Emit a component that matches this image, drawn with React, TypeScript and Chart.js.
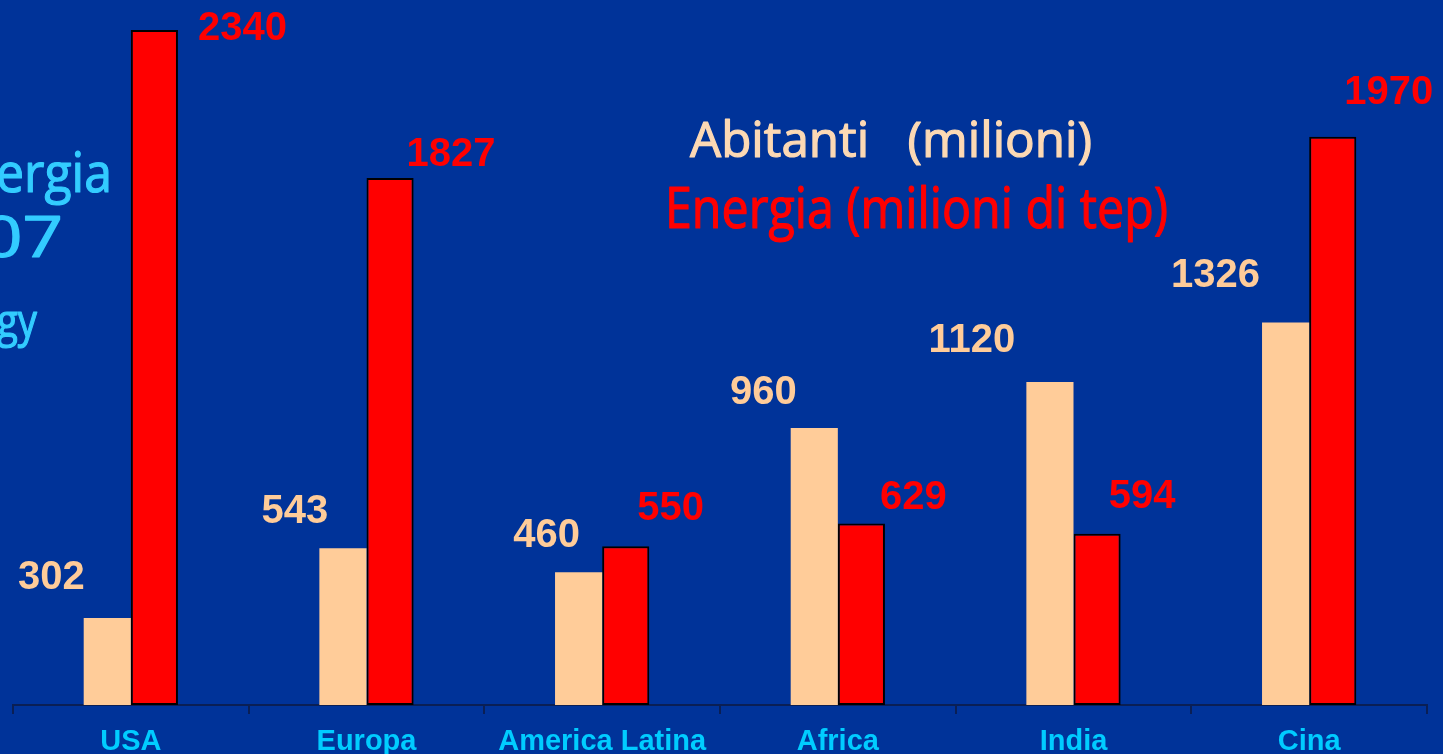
import React, { useEffect, useRef } from "react";
import { Chart, registerables } from "chart.js";

Chart.register(...registerables);

// ---- data ----
const categories = ["USA", "Europa", "America Latina", "Africa", "India", "Cina"];
const abitanti = [302, 543, 460, 960, 1120, 1326];
const energia = [2340, 1827, 550, 629, 594, 1970];
const yMax = 2444;

// ---- label nudges (relative to the bar centre / bar top) ----
const abitantiLabelDx = [-56, -48, -32, -51, -78, -70];
const abitantiLabelDy = [40, 36, 36, 35, 41, 47];
const energiaLabelDx = [88, 61, 45, 52, 45, 56];
const energiaLabelDy = [1, 23, 37, 26, 37, 44];

const BG = "#003399";
const PEACH = "#FFCC99";
const RED = "#FF0000";
const CYAN = "#00CCFF";
const AXIS = "#0a1f55";

function drawFit(
  ctx: CanvasRenderingContext2D,
  text: string,
  x: number,
  y: number,
  width: number,
  font: string,
  color: string
) {
  ctx.save();
  ctx.font = font;
  ctx.fillStyle = color;
  ctx.strokeStyle = color;
  ctx.lineWidth = 1.2;
  ctx.lineJoin = "round";
  ctx.textAlign = "left";
  ctx.textBaseline = "alphabetic";
  const w = ctx.measureText(text).width || 1;
  ctx.translate(x, y);
  ctx.scale(width / w, 1);
  ctx.fillText(text, 0, 0);
  ctx.strokeText(text, 0, 0);
  ctx.restore();
}

const decorPlugin = {
  id: "decor",
  beforeDraw(chart: any) {
    const ctx = chart.ctx as CanvasRenderingContext2D;
    ctx.save();
    ctx.fillStyle = BG;
    ctx.fillRect(0, 0, chart.width, chart.height);
    ctx.restore();
  },
  afterDatasetsDraw(chart: any) {
    const ctx = chart.ctx as CanvasRenderingContext2D;
    // left cut-off title text
    const hand = "'Open Sans', sans-serif";
    drawFit(ctx, "ergia", -4, 192, 116, `54px ${hand}`, "#33CCFF");
    drawFit(ctx, "07", -18, 257, 81, `56px ${hand}`, "#33CCFF");
    drawFit(ctx, "gy", -3, 337, 40, `45px ${hand}`, "#33CCFF");

    // legend text
    drawFit(ctx, "Abitanti   (milioni)", 690, 157, 402, `49px ${hand}`, "#FCD9B4");
    drawFit(ctx, "Energia (milioni di tep)", 665, 228, 503, `56px ${hand}`, RED);

    // value labels
    ctx.save();
    ctx.font = "bold 40px 'Liberation Sans', Arial, sans-serif";
    ctx.textAlign = "center";
    ctx.textBaseline = "middle";
    const m0 = chart.getDatasetMeta(0);
    const m1 = chart.getDatasetMeta(1);
    m0.data.forEach((bar: any, i: number) => {
      ctx.fillStyle = PEACH;
      ctx.fillText(String(abitanti[i]), bar.x + abitantiLabelDx[i], bar.y - abitantiLabelDy[i]);
    });
    m1.data.forEach((bar: any, i: number) => {
      ctx.fillStyle = RED;
      ctx.fillText(String(energia[i]), bar.x + energiaLabelDx[i], bar.y - energiaLabelDy[i]);
    });
    ctx.restore();
  },
};

export default function App() {
  const ref = useRef<HTMLCanvasElement | null>(null);

  useEffect(() => {
    document.body.style.margin = "0";
    document.body.style.background = BG;
    if (!ref.current) return;
    const chart = new Chart(ref.current, {
      type: "bar",
      data: {
        labels: categories,
        datasets: [
          {
            label: "Abitanti (milioni)",
            data: abitanti,
            backgroundColor: PEACH,
            borderWidth: 0,
            categoryPercentage: 0.4,
            barPercentage: 1.0,
          },
          {
            label: "Energia (milioni di tep)",
            data: energia,
            backgroundColor: RED,
            borderColor: "#000000",
            borderWidth: 2,
            borderSkipped: false,
            categoryPercentage: 0.4,
            barPercentage: 1.0,
          },
        ],
      },
      options: {
        animation: false,
        responsive: true,
        maintainAspectRatio: false,
        layout: { padding: { left: 13, right: 16, top: 0, bottom: 0 } },
        plugins: {
          legend: { display: false },
          tooltip: { enabled: false },
          title: { display: false },
        },
        scales: {
          x: {
            grid: {
              display: true,
              drawOnChartArea: false,
              drawTicks: true,
              tickLength: 9,
              color: AXIS,
              lineWidth: 2,
              offset: true,
            },
            border: { display: true, color: AXIS, width: 2 },
            ticks: {
              color: CYAN,
              font: { family: "'Liberation Sans', Arial, sans-serif", weight: "bold", size: 29 },
              padding: 11,
              maxRotation: 0,
              autoSkip: false,
            },
            afterFit(scale: any) {
              scale.height = 49;
            },
          },
          y: {
            display: false,
            min: 0,
            max: yMax,
          },
        },
      },
      plugins: [decorPlugin],
    } as any);
    return () => chart.destroy();
  }, []);

  return (
    <div
      style={{
        position: "fixed",
        left: 0,
        top: 0,
        width: "1443px",
        height: "754px",
        background: BG,
      }}
    >
      <canvas ref={ref} />
    </div>
  );
}
